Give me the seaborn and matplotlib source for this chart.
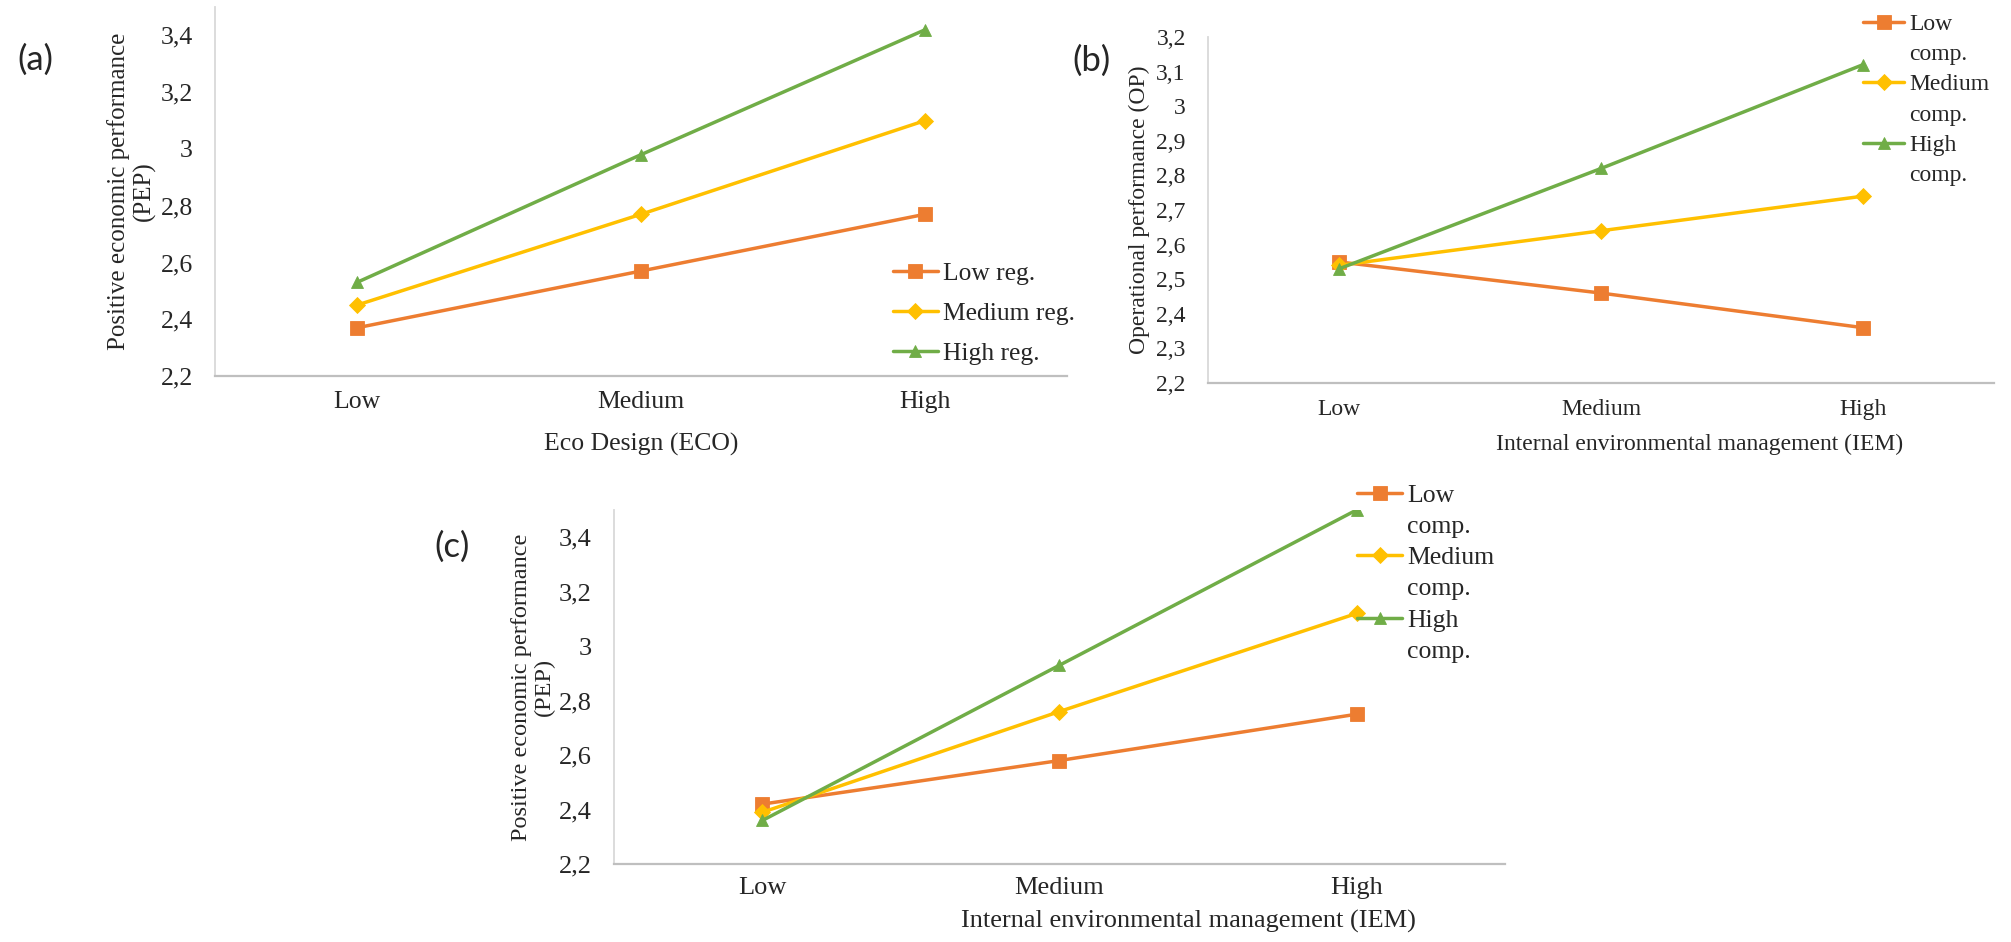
import pandas as pd
import matplotlib.pyplot as plt
from matplotlib.lines import Line2D
from matplotlib.ticker import FuncFormatter, MultipleLocator, FixedLocator
import seaborn as sns

# categories on the x axis
levels = ['Low', 'Medium', 'High']

# (a) PEP by eco design, moderated by regulation
reg_groups = ['Low reg.', 'Medium reg.', 'High reg.']
pep_eco_low = [2.37, 2.57, 2.77]
pep_eco_med = [2.45, 2.77, 3.10]
pep_eco_high = [2.53, 2.98, 3.42]

# (b) OP by internal environmental management, moderated by competition
comp_groups = ['Low comp.', 'Medium comp.', 'High comp.']
op_iem_low = [2.55, 2.46, 2.36]
op_iem_med = [2.54, 2.64, 2.74]
op_iem_high = [2.53, 2.82, 3.12]

# (c) PEP by internal environmental management, moderated by competition
pep_iem_low = [2.42, 2.58, 2.75]
pep_iem_med = [2.39, 2.76, 3.12]
pep_iem_high = [2.36, 2.93, 3.50]

colors = ['#ED7D31', '#FFC000', '#70AD47']
markers = ['s', 'D', '^']
msizes = [10, 8.2, 9]

sns.set_style('white')
plt.rcParams['font.family'] = ['Liberation Serif', 'DejaVu Serif']


def long_df(groups, series):
    rows = []
    for g, vals in zip(groups, series):
        for lvl, v in zip(levels, vals):
            rows.append((lvl, g, v))
    return pd.DataFrame(rows, columns=['level', 'group', 'value'])


def comma(v, pos):
    return f'{v:g}'.replace('.', ',')


def draw_panel(ax, df, groups, ylim, ystep, fs, ylabel, xlabel, ylab_x, xlab_pos, tick_pad):
    handles = []
    for g, c, m, ms in zip(groups, colors, markers, msizes):
        sub = df[df['group'] == g]
        sns.lineplot(data=sub, x='level', y='value', ax=ax, color=c, marker=m,
                     markersize=ms, markeredgecolor=c, markeredgewidth=0.6,
                     linewidth=2.5, errorbar=None, sort=False, legend=False)
        handles.append(ax.get_lines()[-1])
    ax.set_xlim(-0.5, 2.5)
    ax.set_ylim(*ylim)
    ax.yaxis.set_major_locator(MultipleLocator(ystep))
    ax.yaxis.set_major_formatter(FuncFormatter(comma))
    ax.xaxis.set_minor_locator(FixedLocator([-0.5, 0.5, 1.5, 2.5]))
    ax.tick_params(axis='x', which='major', length=0, labelsize=fs, pad=tick_pad)
    ax.tick_params(axis='x', which='minor', length=5, width=1.2, color='#BFBFBF')
    ax.tick_params(axis='y', length=5, width=1.2, color='#D9D9D9', labelsize=fs, pad=11)
    for s in ['top', 'right']:
        ax.spines[s].set_visible(False)
    ax.spines['left'].set_color('#D9D9D9')
    ax.spines['left'].set_linewidth(1.3)
    ax.spines['bottom'].set_color('#BFBFBF')
    ax.spines['bottom'].set_linewidth(1.6)
    ax.set_ylabel(ylabel, fontsize=ylab_x[1], linespacing=1.15)
    ax.yaxis.set_label_coords(ylab_x[0], 0.5)
    ax.set_xlabel(xlabel, fontsize=fs)
    ax.xaxis.set_label_coords(*xlab_pos)
    return handles


fig = plt.figure(figsize=(20.11, 9.42), dpi=100)
ax_a = fig.add_axes([0.1069, 0.6008, 0.4237, 0.3917])
ax_b = fig.add_axes([0.6007, 0.5934, 0.3908, 0.3673])
ax_c = fig.add_axes([0.3053, 0.0828, 0.4431, 0.3758])

df_a = long_df(reg_groups, [pep_eco_low, pep_eco_med, pep_eco_high])
df_b = long_df(comp_groups, [op_iem_low, op_iem_med, op_iem_high])
df_c = long_df(comp_groups, [pep_iem_low, pep_iem_med, pep_iem_high])

h_a = draw_panel(ax_a, df_a, reg_groups, (2.2, 3.5), 0.2, 18.5,
                 'Positive economic performance\n(PEP)', 'Eco Design (ECO)',
                 (-0.069, 18), (0.5, -0.155), 10.8)
h_b = draw_panel(ax_b, df_b, comp_groups, (2.2, 3.2), 0.1, 17,
                 'Operational performance (OP)', 'Internal environmental management (IEM)',
                 (-0.074, 17), (0.626, -0.147), 11.5)
h_c = draw_panel(ax_c, df_c, comp_groups, (2.2, 3.5), 0.2, 19,
                 'Positive economic performance\n(PEP)', 'Internal environmental management (IEM)',
                 (-0.066, 17.5), (0.645, -0.131), 9.7)

# legend (a): inside, lower right
fig.legend(h_a, reg_groups, loc='center left', bbox_to_anchor=(0.444, 0.667),
           frameon=False, fontsize=18.4, borderpad=0, borderaxespad=0,
           handlelength=1.75, handletextpad=0.2, labelspacing=0.68)


def split_legend(handles, groups, anchor, fs, spacing):
    blank = Line2D([], [], color='none')
    hs, ls = [], []
    for h, g in zip(handles, groups):
        first, rest = g.split(' ', 1)
        hs += [h, blank]
        ls += [first, rest]
    fig.legend(hs, ls, loc='center left', bbox_to_anchor=anchor, frameon=False,
               fontsize=fs, borderpad=0, borderaxespad=0, handlelength=1.75,
               handletextpad=0.2, labelspacing=spacing)


split_legend(h_b, comp_groups, (0.9264, 0.894), 17, 0.37)
split_legend(h_c, comp_groups, (0.6748, 0.3913), 18.5, 0.32)

# panel letters
for txt, x, y in [('(a)', 35, 60), ('(b)', 1092, 61), ('(c)', 452, 547)]:
    fig.text(x / 2011, 1 - y / 942, txt, fontsize=25, family=['Lato', 'DejaVu Sans'],
             ha='center', va='center')

fig.savefig('out.png', dpi=100)
